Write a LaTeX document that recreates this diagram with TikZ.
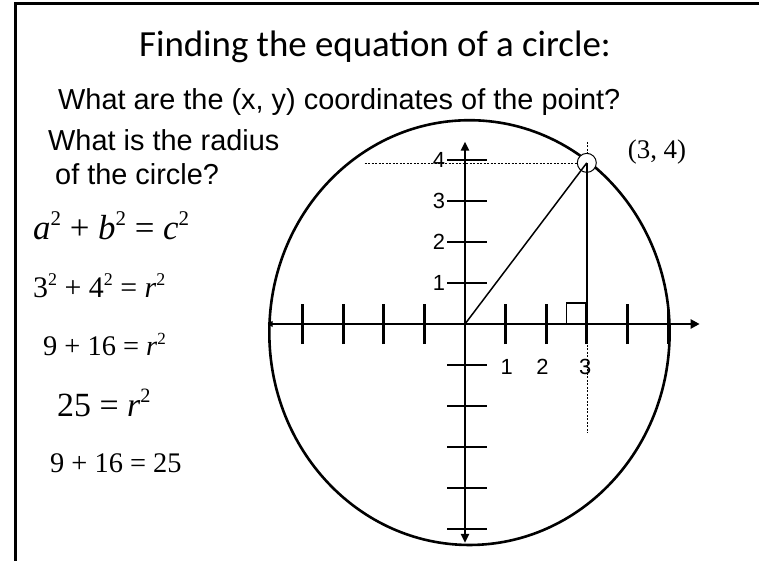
\documentclass[tikz,border=0pt]{standalone}
\usepackage{fontspec}
\usepackage{graphicx}
\setmainfont{Liberation Serif}
\newfontfamily\titlefont{Carlito}
\newfontfamily\askfont{Liberation Sans}
\newfontfamily\eqfont{Liberation Serif}
\usepackage{tikz}
\usetikzlibrary{arrows.meta}

\newcommand{\sq}{\raisebox{0.42em}{\scalebox{0.6}{2}}}

\begin{document}
\begin{tikzpicture}[
  x=1bp, y=1bp,
  txt/.style={inner sep=0pt, anchor=base west},
  ask/.style={txt, font=\askfont\fontsize{29}{33}\selectfont},
  eq/.style={txt, font=\eqfont\fontsize{#1}{#1}\selectfont},
  num/.style={font=\askfont\fontsize{22}{25}\selectfont, inner sep=2bp},
  axis/.style={line width=2.8bp},
  tick/.style={line width=2.8bp},
  guide/.style={line width=0.6bp, dash pattern=on 2bp off 1.5bp},
  leg/.style={line width=1.5bp},
  dot/.style={circle, draw, fill=white, line width=1bp, minimum size=19bp, inner sep=0pt},
]
\useasboundingbox (0,0) rectangle (759,561);
\draw[line width=3bp] (15,0) -- (15,557) -- (759,557);

\node[anchor=base, inner sep=0pt, font=\titlefont\fontsize{37}{40}\selectfont]
  (title) at (375,504) {Finding the equation of a circle:};
\node[ask] (askpoint) at (58,451) {What are the (x, y) coordinates of the point?};
\node[ask] (askradius) at (48,410) {What is the radius};
\node[ask] (askradius2) at (55,376) {of the circle?};

\node[eq=35] (eqpyth) at (33,321) {{\itshape a}\sq{} + {\itshape b}\sq{} = {\itshape c}\sq};
\node[eq=30] (eqsub) at (33,263) {3\sq{} + 4\sq{} = {\itshape r}\sq};
\node[eq=28.5] (eqsum) at (43,205) {9 + 16 = {\itshape r}\sq};
\node[eq=34] (eqrsq) at (57,144) {25 = {\itshape r}\sq};
\node[eq=28.5] (eqcheck) at (50,88) {9 + 16 = 25};

% coordinate plane
\begin{scope}[shift={(465,237)}, x=40.6bp, y=41bp]
  \draw[line width=2.6bp] (0.11,-0.21) ellipse [x radius=4.93, y radius=5.18];

  \coordinate (O) at (0,0);
  \coordinate (xl) at (-4.86,0);
  \coordinate (xr) at (5.78,0);
  \coordinate (yb) at (0,-5.34);
  \coordinate (yt) at (0,4.45);
  \draw[axis, {Triangle[length=5bp,width=6bp]}-{Triangle[length=9bp,width=9bp]}] (xl) -- (xr);
  \draw[axis, {Triangle[length=9bp,width=8bp]}-{Triangle[length=9bp,width=8bp]}] (yb) -- (yt);

  \foreach \i in {-4,-3,-2,-1,1,2,3,4,5}
    \draw[tick] (\i,-0.49) -- (\i,0.49);
  \foreach \j in {-5,-4,-3,-2,-1,1,2,3,4}
    \draw[tick] (-0.44,\j) -- (0.54,\j);

  \foreach \j in {1,...,4}
    \node[num, anchor=east] (ylab\j) at (-0.44,\j) {\j};
  \foreach \i/\xp in {1/1.03,2/1.91,3/2.96}
    \node[num] (xlab\i) at (\xp,-1.05) {\i};

  % guide lines through the point
  \coordinate (ptc) at (3,3.93);
  \coordinate (hgL) at (-2.47,3.93);
  \coordinate (vgT) at (3,4.44);
  \coordinate (vgB) at (3,-2.66);
  \draw[guide] (hgL) -- (ptc);
  \draw[guide] (vgT) -- (vgB);

  \node[dot] (pt) at (ptc) {};
  \coordinate (foot) at (3,0);
  \draw[leg] (O) -- (pt.center);
  \draw[leg] (pt.center) -- (foot);
  \draw[line width=1.2bp] (2.49,0) rectangle (3,0.51);
\end{scope}

\node[font=\eqfont\fontsize{27}{30}\selectfont, inner sep=0pt] (ptlabel) at (657,409) {(3, 4)};
\end{tikzpicture}
\end{document}
